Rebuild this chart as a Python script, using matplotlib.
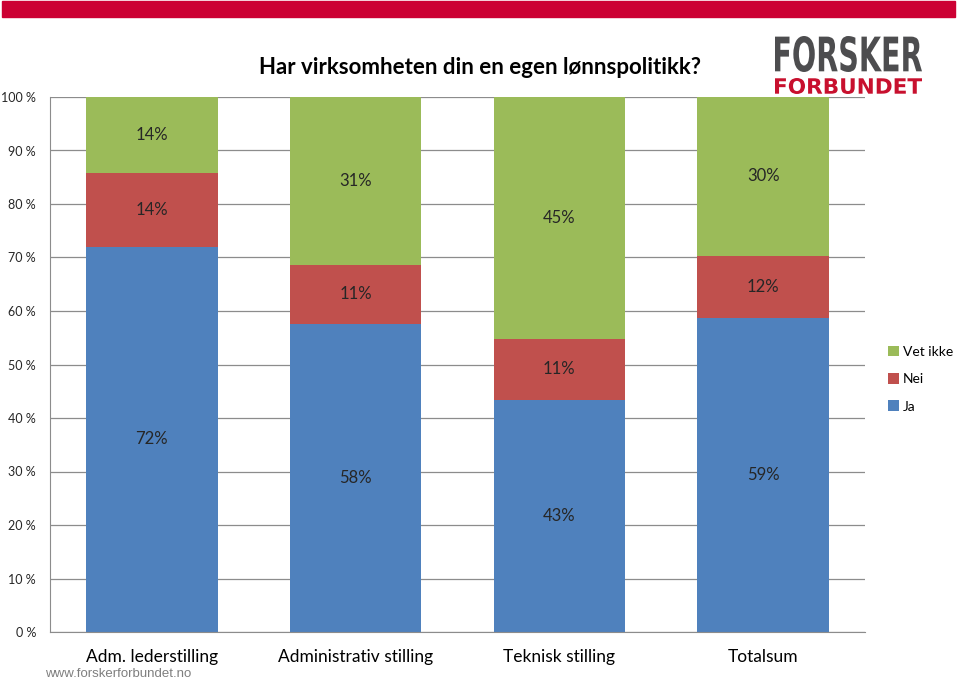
import matplotlib.pyplot as plt
import numpy as np
from matplotlib.textpath import TextPath
from matplotlib.patches import PathPatch
from matplotlib.font_manager import FontProperties
from matplotlib.transforms import Affine2D

categories = ['Adm. lederstilling', 'Administrativ stilling', 'Teknisk stilling', 'Totalsum']
ja = [72.0, 57.6, 43.4, 58.7]
nei = [13.8, 11.0, 11.4, 11.6]
vet_ikke = [14.2, 31.4, 45.2, 29.7]
yticks = ['0 %', '10 %', '20 %', '30 %', '40 %', '50 %', '60 %', '70 %', '80 %', '90 %', '100 %']

series = [('Ja', ja, '#4F81BD'), ('Nei', nei, '#C0504D'), ('Vet ikke', vet_ikke, '#9BBB59')]

plt.rcParams['font.family'] = ['Lato', 'DejaVu Sans']

W, H = 960, 681
fig = plt.figure(figsize=(9.6, 6.81), dpi=100)
ax = fig.add_axes([50/W, 49/H, 815/W, 535/H])

x = np.arange(len(categories))
totals = np.array(ja) + np.array(nei) + np.array(vet_ikke)
bottom = np.zeros(len(categories))
handles = []
for name, vals, color in series:
    share = np.array(vals) / totals * 100
    b = ax.bar(x, share, 0.645, bottom=bottom, color=color, zorder=2, label=name)
    handles.append(b)
    for xi, s, v, bt in zip(x, share, vals, bottom):
        ax.text(xi, bt + s / 2, f'{v:.0f}%', ha='center', va='center',
                fontsize=12, color='#262626', zorder=3)
    bottom += share

ax.set_xlim(-0.5, 3.5)
ax.set_ylim(0, 100)
ax.set_yticks(np.arange(0, 101, 10))
ax.set_yticklabels(yticks, fontsize=9, color='#262626')
ax.set_xticks(x)
ax.set_xticklabels(categories, fontsize=12.5, color='black')
ax.tick_params(axis='y', length=0, pad=10)
ax.tick_params(axis='x', length=0, pad=12)
ax.grid(axis='y', color='#8C8C8C', linewidth=0.9, zorder=0)
for side in ['top', 'right']:
    ax.spines[side].set_visible(False)
ax.spines['left'].set_color('#8C8C8C')
ax.spines['bottom'].set_color('#8C8C8C')

fig.legend(handles[::-1], [h.get_label() for h in handles[::-1]],
           loc='upper left', bbox_to_anchor=(882/W, 1 - 340/H),
           frameon=False, fontsize=10, handlelength=0.8, handleheight=0.8,
           handletextpad=0.3, labelspacing=1.1, borderaxespad=0)

# top red band
fig.patches.append(plt.Rectangle((2/W, 1 - 17/H), 953/W, 16/H,
                                 transform=fig.transFigure, color='#CC0033'))

fig.text(480/W, 1 - 68/H, 'Har virksomheten din en egen lønnspolitikk?',
         ha='center', va='center', fontsize=16, fontweight='bold')


# logo text squeezed into a box (pixel coords from top-left)
def box_text(s, x0, x1, ytop, ybot, color):
    tp = TextPath((0, 0), s, size=1, prop=FontProperties(family='DejaVu Sans', weight='bold'))
    ext = tp.get_extents()
    sx = (x1 - x0) / ext.width / W
    sy = (ybot - ytop) / ext.height / H
    tr = (Affine2D().translate(-ext.x0, -ext.y0).scale(sx, sy)
          .translate(x0 / W, 1 - ybot / H) + fig.transFigure)
    fig.patches.append(PathPatch(tp, transform=tr, color=color, lw=0))


box_text('FORSKER', 775, 922, 36, 72, '#4D4D4F')
box_text('FORBUNDET', 775, 922, 78, 94, '#C8102E')

fig.text(45/W, 1 - 674/H, 'www.forskerforbundet.no', ha='left', va='center',
         fontsize=9.5, color='#7F7F7F', family=['Liberation Sans', 'DejaVu Sans'])

fig.savefig('out.png', dpi=100)
